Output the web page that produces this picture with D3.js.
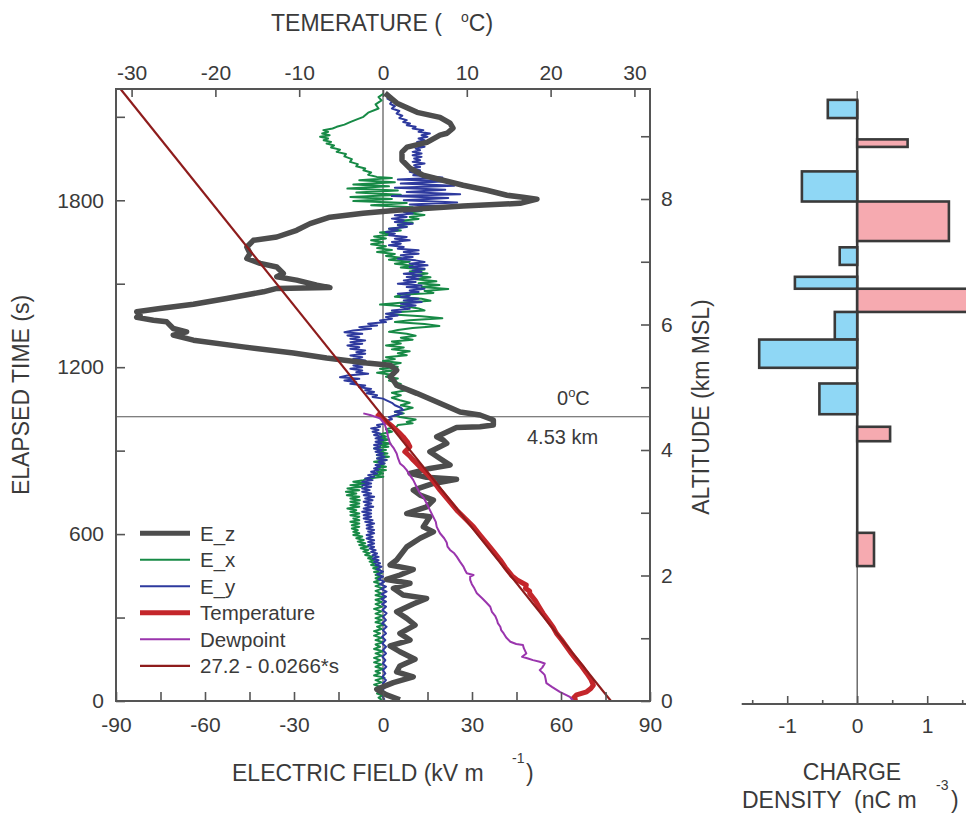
<!DOCTYPE html>
<html><head><meta charset="utf-8">
<script src="https://cdn.jsdelivr.net/npm/d3@7"></script>
<style>
body{margin:0;background:#fff}
text{font-family:"Liberation Sans",Arial,sans-serif;fill:#3a3a3a;white-space:pre}
</style>
</head><body><svg id="c" width="966" height="815"></svg>
<script>
// ---------- DATA ([elapsed time s, value]) ----------
const ezData = [[2185,0.7],[2149,4.7],[2116,11.5],[2098,19.2],[2077,22.6],[2059,23.6],[2041,21.6],[2034,19.2],[2008,14.8],[1991,8.1],[1973,6.4],[1944,6.4],[1915,9.1],[1890,13.5],[1872,20.2],[1854,27.0],[1836,35.0],[1818,41.8],[1811,47.2],[1804,51.9],[1789,46.2],[1779,27.0],[1764,4.7],[1753,-6.7],[1739,-17.9],[1716,-24.6],[1692,-29.1],[1668,-35.8],[1656,-43.7],[1632,-45.9],[1609,-44.8],[1591,-45.9],[1573,-41.4],[1560,-35.8],[1537,-33.6],[1525,-35.8],[1513,-29.1],[1495,-22.3],[1486,-17.9],[1483,-35.8],[1471,-40.3],[1447,-52.7],[1426,-63.9],[1411,-75.2],[1399,-83.0],[1387,-81.9],[1379,-83.0],[1369,-77.4],[1363,-72.9],[1339,-70.7],[1327,-66.2],[1315,-70.7],[1297,-63.9],[1273,-47.1],[1251,-30.2],[1233,-19.0],[1215,-5.5],[1207,2.4],[1189,4.6],[1165,2.4],[1153,3.5],[1135,4.6],[1106,11.4],[1070,19.2],[1039,26.0],[1028,32.7],[1010,37.2],[992,37.2],[986,32.7],[983,24.8],[950,18.1],[938,20.3],[926,21.5],[896,15.8],[872,19.2],[848,22.6],[836,15.8],[818,9.1],[804,14.7],[797,24.8],[782,17.0],[758,10.2],[740,12.5],[722,17.0],[698,14.7],[674,8.0],[662,15.8],[626,13.6],[608,17.0],[585,12.5],[554,8.0],[507,4.6],[489,2.4],[473,10.2],[453,5.7],[437,1.2],[423,9.1],[405,3.5],[381,6.8],[369,14.7],[349,10.2],[321,4.6],[297,8.0],[273,10.8],[243,5.7],[219,9.1],[198,2.4],[177,5.7],[150,10.8],[126,5.7],[105,4.6],[87,10.2],[66,3.5],[42,-2.1],[22,1.2],[4,5.7]];

const exData = [[2183,0.1],[2171,-1.5],[2159,-0.5],[2145,-2.5],[2130,-1.5],[2115,-5],[2100,-6.6],[2090,-9],[2081,-11.1],[2072,-13],[2064,-15.6],[2058,-17],[2052,-20.1],[2046,-18.5],[2040,-20.5],[2034,-18],[2028,-21.2],[2022,-18.5],[2016,-20],[2010,-17.5],[2004,-19.0],[1997,-16.5],[1990,-17.5],[1982,-14.5],[1974,-15.6],[1966,-12.5],[1958,-13],[1948,-10.5],[1938,-11.1],[1930,-8.5],[1922,-9],[1914,-6],[1908,-6.6],[1900,-4],[1892,-5],[1884,-2.1],[1880,3],[1872,-8],[1865,4],[1857,-10],[1850,2],[1842,-12],[1835,5],[1828,-9],[1820,6],[1812,-11],[1805,3],[1797,-10],[1790,8],[1782,-4],[1775,10],[1768,5],[1761,13],[1754,8],[1747,14],[1740,9],[1733,12],[1726,6],[1719,10],[1712,5],[1705,8],[1698,2],[1691,6],[1684,-1],[1677,3],[1670,-3],[1663,1],[1656,-4],[1649,0],[1642,-4],[1635,1],[1628,-2],[1621,3],[1614,-2],[1607,4],[1600,1],[1593,6],[1586,2],[1579,9],[1572,4],[1565,10],[1558,6],[1551,14],[1544,9],[1537,15],[1530,10],[1523,16],[1516,11],[1509,18],[1502,12],[1495,19],[1488,13],[1481,22],[1474,14],[1467,17],[1460,6],[1453,4],[1446,13],[1439,16],[1432,6],[1425,-1],[1418,8],[1411,12],[1404,14],[1397,3],[1390,2],[1383,13],[1376,20],[1369,9],[1362,4],[1355,14],[1348,19],[1341,10],[1334,5],[1327,2],[1320,8],[1313,11],[1306,6],[1299,10],[1292,3],[1285,6],[1278,1],[1271,7],[1264,3],[1257,9],[1250,5],[1243,8],[1236,1],[1229,4],[1222,0],[1215,6],[1208,2],[1201,5],[1194,-1],[1187,3],[1180,-2],[1173,3],[1166,1],[1159,5],[1152,2],[1140,6],[1129,4.6],[1117,8.0],[1108,3],[1099,6],[1090,3],[1081,5.7],[1072,9],[1063,6],[1054,10],[1046,7],[1040,4],[1034,7],[1027,4],[1021,5.7],[1012,11],[1003,8],[998,10],[992,5],[986,4.6],[977,1],[968,3],[959,-1],[950,1],[945,-2],[940,2],[932,-1.5],[926,2.5],[920,-1],[914,1.8],[908,-3],[902,1],[896,-2],[890,1.5],[884,-2.1],[878,2],[872,-2],[866,1.2],[860,-3],[854,0.5],[848,-2],[842,1],[836,-2.1],[830,1],[824,-2],[818,0],[812,-3],[806,0.1],[800,-5],[794,-6.6],[788,-10],[782,-6],[776,-11],[770,-7],[764,-12],[758,-8],[752,-12.5],[746,-9],[740,-12.2],[734,-8],[728,-11],[722,-7.8],[716,-11],[710,-8],[704,-11],[698,-8],[692,-12],[686,-9],[680,-11],[674,-8],[668,-11],[662,-8],[656,-10],[650,-8],[644,-11],[638,-8],[632,-10.5],[626,-8],[620,-10.5],[614,-8.5],[608,-10],[603,-8],[597,-10],[591,-7],[585,-9],[579,-6.5],[573,-8.5],[567,-6],[561,-8],[555,-5],[549,-7.5],[543,-5],[537,-6.6],[531,-4.5],[525,-6],[519,-3.5],[513,-5],[507,-3],[501,-4.5],[495,-2.5],[489,-4],[483,-1.5],[477,-3.3],[470,-1],[464,-3],[459,-0.5],[453,-2.5],[447,-0.5],[441,-2.5],[435,-1.0],[428,-3],[420,-0.5],[413,-2.5],[405,0],[396,-2.5],[387,-0.5],[380,-2.5],[372,0.5],[364,-2.5],[356,-0.5],[348,-2.5],[339,-0.4],[331,-3],[322,-0.5],[314,-2.5],[306,0],[298,-2.5],[291,-0.5],[283,-2.5],[275,0.5],[267,-2],[259,-0.5],[251,-3],[243,-1.0],[235,-3],[227,-0.5],[219,-2.5],[211,0],[203,-2.5],[195,-1],[187,-3],[179,0],[171,-2.5],[163,-0.5],[155,-3],[147,-1.0],[139,-3],[131,-0.5],[123,-2.5],[115,0],[107,-2.5],[100,-1],[92,-3],[84,0.5],[75,-2.5],[67,-0.5],[59,-3],[51,-1.0],[43,-2.5],[35,-0.5],[27,-2],[20,0],[12,-1.5],[4,-0.4]];

const eyData = [[2183,1.2],[2174,2.5],[2165,1.5],[2156,3],[2147,2.4],[2138,4],[2130,3],[2121,5.5],[2112,4.6],[2104,6.5],[2096,5.5],[2088,8],[2081,6.8],[2076,9.1],[2070,8],[2064,11],[2058,10],[2052,13.6],[2046,12],[2040,15.8],[2034,13],[2028,15],[2022,12],[2016,14],[2010,11.5],[2004,13],[1998,10.5],[1992,14],[1986,11],[1980,12.5],[1974,10],[1968,13],[1962,10],[1956,13],[1950,10.5],[1944,12.5],[1938,10],[1932,14],[1926,10.5],[1920,12.5],[1914,9],[1908,12.5],[1902,9],[1896,11.5],[1890,10.2],[1882,20],[1875,5],[1868,22],[1860,6],[1852,24],[1845,4],[1838,21],[1830,8],[1822,26],[1815,3],[1808,22],[1800,7],[1792,25],[1785,9],[1778,20],[1770,6],[1764,13],[1758,7],[1752,10],[1746,4],[1740,8],[1734,3],[1728,7],[1722,4],[1716,10],[1710,5],[1704,8],[1698,2],[1692,5],[1686,1],[1680,4],[1674,2],[1668,8],[1662,4],[1656,9],[1650,3],[1644,6],[1638,2],[1632,7],[1626,5],[1620,12],[1614,7],[1608,12],[1602,6],[1596,10],[1590,5],[1584,11],[1578,14],[1572,9],[1566,15],[1560,9],[1554,14],[1548,10],[1542,13],[1536,7],[1530,13],[1524,8],[1518,12],[1512,7],[1506,11],[1500,5],[1494,13],[1488,8],[1482,14],[1476,9],[1470,12],[1464,5],[1458,9],[1452,6],[1446,12],[1440,7],[1434,13],[1428,6],[1422,11],[1416,6],[1410,9],[1404,3],[1398,6],[1392,1],[1386,5],[1380,1],[1374,3],[1368,-1],[1362,1],[1356,-5],[1350,-2],[1344,-8],[1338,-4],[1332,-10],[1326,-13],[1320,-7],[1314,-12],[1308,-8],[1302,-11],[1296,-6],[1290,-11],[1284,-7],[1278,-12],[1272,-8],[1266,-11],[1260,-6],[1254,-9],[1248,-6],[1242,-11],[1236,-7],[1230,-10],[1224,-6],[1218,-10],[1212,-5],[1206,-10],[1200,-7],[1194,-11],[1188,-7],[1182,-9],[1176,-5],[1170,-12],[1164,-14.5],[1158,-8],[1152,-13],[1146,-9],[1140,-11],[1134,-6],[1128,-8],[1122,-4],[1117,-6],[1111,-3],[1106,-5.5],[1099,-2],[1093,-3.5],[1087,0],[1081,1.2],[1072,3],[1063,4],[1054,6],[1046,6.8],[1040,4],[1034,6.5],[1028,4.6],[1020,2],[1013,3],[1005,0],[998,1.2],[992,-2],[986,-1],[980,-4],[974,-1.5],[968,-3.5],[962,-1],[956,-3],[950,-0.5],[944,-2.5],[938,0],[932,-2.5],[926,-0.5],[920,-3],[914,-1.0],[908,-3],[902,-0.5],[896,-2.5],[890,0],[884,-2],[878,0.5],[872,-2],[866,1.2],[860,-1.5],[854,0.5],[848,-2.5],[842,-1],[836,-3],[830,-1.5],[824,-4],[818,-2],[812,-5],[806,-3],[800,-6],[794,-3.5],[788,-7],[782,-4],[776,-7],[770,-4],[764,-7],[758,-4.5],[752,-7],[746,-4],[740,-6.5],[734,-3],[728,-6],[722,-3.5],[716,-6.5],[710,-4],[704,-6],[698,-3.3],[692,-6.5],[686,-4],[680,-7],[674,-4],[668,-6.5],[662,-4],[656,-6.5],[650,-3.5],[644,-6],[638,-3],[632,-5.5],[626,-3.5],[620,-5.5],[615,-3],[609,-5],[603,-3],[597,-5.5],[590,-3.5],[584,-5.5],[578,-3],[572,-5],[566,-3],[560,-5],[554,-3],[548,-4.5],[542,-2.5],[536,-4],[530,-2],[524,-3.5],[518,-1.5],[512,-3.5],[506,-1.5],[500,-3],[495,-1],[489,-2.5],[483,-0.5],[474,-2],[465,0],[456,-2],[447,0],[438,-1.5],[429,0.5],[420,-1],[411,1],[402,-0.5],[393,1.2],[384,-0.5],[375,1],[366,-0.5],[357,1],[348,-0.3],[339,1],[327,-0.2],[315,1.2],[303,0],[291,1],[279,-0.3],[267,1.2],[255,0],[243,1],[231,-0.3],[219,0.8],[207,-0.2],[195,1],[183,0],[171,1],[159,-0.2],[147,0.8],[135,0],[123,1.1],[111,0],[99,0.8],[87,-0.2],[75,1],[63,0],[51,0.8],[39,-0.2],[27,0.8],[15,0],[4,0.5]];

const tempData = [[1034,-0.75],[1020,-0.2],[1005,0.4],[990,1.0],[974,1.6],[962,2.0],[950,2.4],[932,2.9],[914,3.2],[905,2.9],[896,2.6],[880,3.2],[866,3.6],[842,4.4],[818,5.2],[790,6.0],[758,6.8],[722,7.8],[686,8.8],[656,9.8],[626,10.8],[596,11.6],[567,12.4],[537,13.2],[507,14.0],[480,14.6],[450,15.4],[435,16.0],[425,16.6],[417,17.1],[405,17.0],[395,17.5],[387,17.5],[360,18.2],[340,18.6],[315,19.1],[290,19.7],[265,20.3],[243,20.7],[220,21.3],[195,21.9],[170,22.5],[147,23.1],[125,23.7],[100,24.3],[78,24.8],[57,25.1],[45,24.8],[33,24.3],[22,23.1],[10,22.7],[0,23.1]];

const dewData = [[1034,-2.35],[1028,-1.55],[1016,-0.36],[995,0.2],[974,0.44],[950,0.6],[926,0.84],[908,1.3],[890,1.63],[872,1.8],[854,2.03],[842,2.5],[830,2.83],[812,3.2],[794,3.62],[770,4.0],[746,4.42],[728,4.9],[710,5.21],[686,5.6],[662,6.0],[644,6.3],[626,6.41],[615,6.6],[603,6.8],[585,7.3],[570,7.6],[555,7.7],[543,8.0],[531,8.5],[519,8.8],[500,9.2],[483,9.6],[470,9.8],[459,10.0],[453,10.8],[447,10.4],[435,10.4],[420,10.6],[405,10.9],[387,11.2],[370,11.8],[355,12.3],[339,12.8],[320,13.0],[305,13.4],[291,13.6],[280,13.7],[267,14.0],[255,14.1],[243,14.4],[228,14.7],[213,15.2],[205,15.9],[201,16.7],[190,16.8],[171,17.1],[159,16.6],[153,17.3],[147,17.9],[141,18.7],[135,19.3],[120,19.0],[111,18.7],[100,19.1],[93,19.3],[80,19.4],[64,19.5],[50,20.2],[33,21.1],[15,22.3],[0,22.7]];

// fit line: 27.2 - 0.0266*s
const fitIntercept = 27.2, fitSlope = -0.0266, fitTimes = [0, 2200];

// charge density profile (altitude km MSL, nC m^-3)
const chargeTop    = [9.58, 8.95, 8.44, 7.96, 7.23, 6.76, 6.57, 6.20, 5.76, 5.06, 4.37, 2.68];
const chargeBottom = [9.29, 8.83, 7.96, 7.33, 6.95, 6.57, 6.20, 5.76, 5.31, 4.57, 4.14, 2.15];
const chargeValue  = [-0.42, 0.72, -0.79, 1.31, -0.25, -0.89, 1.8, -0.32, -1.40, -0.54, 0.47, 0.24];

const freezeAlt = 4.53;

const eTicks = [-90,-75,-60,-45,-30,-15,0,15,30,45,60,75,90];
const tTicks = [-30,-20,-10,0,10,20,30];
const timeTicks = [0,300,600,900,1200,1500,1800,2100];
const altTicks = [0,1,2,3,4,5,6,7,8,9];
const qTicks = [-1.5,-1,-0.5,0,0.5,1,1.5];

const legendItems = [
  {name:"E_z", color:"#4d4d4d", w:5},
  {name:"E_x", color:"#178a46", w:2},
  {name:"E_y", color:"#2e3a9e", w:2},
  {name:"Temperature", color:"#c4262b", w:5},
  {name:"Dewpoint", color:"#9a35ad", w:2},
  {name:"27.2 - 0.0266*s", color:"#8e1c1c", w:2.2}
];

// ---------- LAYOUT ----------
const svg = d3.select("#c");
const L=116, R=650, T=89, B=701;
const x  = d3.scaleLinear().domain([-90,90]).range([L,R]);
const xT = d3.scaleLinear().domain([-31.86,31.86]).range([L,R]);
const y  = d3.scaleLinear().domain([0,2200]).range([B,T]);
const yA = d3.scaleLinear().domain([0,9.753]).range([B,T]);
const xq = d3.scaleLinear().domain([-1.65,1.6]).range([741.7,969.2]);
const axisCol = "#555";

svg.append("defs").append("clipPath").attr("id","clip")
  .append("rect").attr("x",L).attr("y",T).attr("width",R-L).attr("height",B-T);

// zero line and 0C line
svg.append("line").attr("x1",x(0)).attr("x2",x(0)).attr("y1",T).attr("y2",B).attr("stroke",axisCol).attr("stroke-width",1.2);
svg.append("line").attr("x1",L).attr("x2",R).attr("y1",yA(freezeAlt)).attr("y2",yA(freezeAlt)).attr("stroke",axisCol).attr("stroke-width",1.2);

const g = svg.append("g").attr("clip-path","url(#clip)");
const lineE = d3.line().x(d=>x(d[1])).y(d=>y(d[0]));
const lineT = d3.line().x(d=>xT(d[1])).y(d=>y(d[0]));

g.append("path").datum(exData).attr("d",lineE).attr("fill","none").attr("stroke",legendItems[1].color).attr("stroke-width",2).attr("stroke-linejoin","round");
g.append("path").datum(eyData).attr("d",lineE).attr("fill","none").attr("stroke",legendItems[2].color).attr("stroke-width",2).attr("stroke-linejoin","round");
g.append("path").datum(ezData).attr("d",lineE).attr("fill","none").attr("stroke",legendItems[0].color).attr("stroke-width",5.5).attr("stroke-linejoin","round");
g.append("path").datum(tempData).attr("d",lineT).attr("fill","none").attr("stroke",legendItems[3].color).attr("stroke-width",5).attr("stroke-linejoin","round");
g.append("path").datum(dewData).attr("d",lineT).attr("fill","none").attr("stroke",legendItems[4].color).attr("stroke-width",2).attr("stroke-linejoin","round");
g.append("path").datum(fitTimes.map(s=>[s, fitIntercept + fitSlope*s])).attr("d",lineT).attr("fill","none").attr("stroke",legendItems[5].color).attr("stroke-width",2.2);

// frame
svg.append("rect").attr("x",L).attr("y",T).attr("width",R-L).attr("height",B-T).attr("fill","none").attr("stroke",axisCol).attr("stroke-width",2);

function styleAxis(sel, fs){
  sel.select(".domain").remove();
  sel.selectAll(".tick line").attr("stroke",axisCol).attr("stroke-width",1.6);
  sel.selectAll(".tick text").attr("font-size",fs).attr("fill","#3a3a3a").attr("font-family","Liberation Sans, Arial, sans-serif");
}
const fmt = d => String(d);
svg.append("g").attr("transform",`translate(0,${B})`)
  .call(d3.axisBottom(x).tickValues(eTicks).tickFormat(d=>d%30===0?fmt(d):"").tickSize(-9).tickPadding(16))
  .call(s=>styleAxis(s,21));
svg.append("g").attr("transform",`translate(0,${T})`)
  .call(d3.axisTop(xT).tickValues(tTicks).tickFormat(fmt).tickSize(-8).tickPadding(9))
  .call(s=>styleAxis(s,21));
svg.append("g").attr("transform",`translate(${L},0)`)
  .call(d3.axisLeft(y).tickValues(timeTicks).tickFormat(d=>d%600===0?fmt(d):"").tickSize(-9).tickPadding(12))
  .call(s=>styleAxis(s,21));
svg.append("g").attr("transform",`translate(${R},0)`)
  .call(d3.axisRight(yA).tickValues(altTicks).tickFormat(d=>d%2===0?fmt(d):"").tickSize(-9).tickPadding(11))
  .call(s=>styleAxis(s,21));

// titles
const t1 = svg.append("text").attr("x",271).attr("y",31).attr("font-size",23);
t1.append("tspan").text("TEMERATURE (");
t1.append("tspan").attr("x",461).attr("dy",-9).attr("font-size",14).text("o");
t1.append("tspan").attr("dy",9).text("C)");

const t2 = svg.append("text").attr("x",232).attr("y",781).attr("font-size",23);
t2.append("tspan").text("ELECTRIC FIELD (kV m");
t2.append("tspan").attr("x",512).attr("dy",-18).attr("font-size",14).text("-1");
t2.append("tspan").attr("dy",18).attr("x",526).text(")");

svg.append("text").attr("transform",`translate(29,${y(1100)}) rotate(-90)`).attr("text-anchor","middle").attr("font-size",23).text("ELAPSED TIME (s)");
svg.append("text").attr("transform",`translate(709,407) rotate(-90)`).attr("text-anchor","middle").attr("font-size",23).text("ALTITUDE (km MSL)");

// annotations
const a1 = svg.append("text").attr("x",557).attr("y",405).attr("font-size",20);
a1.append("tspan").text("0");
a1.append("tspan").attr("dy",-8).attr("font-size",13).text("o");
a1.append("tspan").attr("dy",8).text("C");
svg.append("text").attr("x",527).attr("y",444).attr("font-size",20).text(freezeAlt.toFixed(2)+" km");

// legend
const lg = svg.append("g");
legendItems.forEach((d,i)=>{
  const yy = 533.3 + i*26.5;
  lg.append("line").attr("x1",140).attr("x2",190).attr("y1",yy).attr("y2",yy).attr("stroke",d.color).attr("stroke-width",d.w);
  lg.append("text").attr("x",200).attr("y",yy+7.5).attr("font-size",20.5).text(d.name);
});

// ---------- CHARGE PANEL ----------
svg.append("line").attr("x1",xq(0)).attr("x2",xq(0)).attr("y1",91).attr("y2",704).attr("stroke",axisCol).attr("stroke-width",1.3);
svg.append("line").attr("x1",xq(0)).attr("x2",xq(0)).attr("y1",yA(d3.max(chargeTop))).attr("y2",yA(d3.min(chargeBottom))).attr("stroke","#3a3a3a").attr("stroke-width",2.6);
chargeValue.forEach((v,i)=>{
  svg.append("rect")
    .attr("x",Math.min(xq(0),xq(v))).attr("width",Math.abs(xq(v)-xq(0)))
    .attr("y",yA(chargeTop[i])).attr("height",yA(chargeBottom[i])-yA(chargeTop[i]))
    .attr("fill",v<0?"#8fd7f5":"#f6aab0").attr("stroke","#3a3a3a").attr("stroke-width",2.6);
});
const qa = svg.append("g").attr("transform","translate(0,704)")
  .call(d3.axisBottom(xq).tickValues(qTicks).tickFormat(d=>Number.isInteger(d)?fmt(d):"").tickSize(0).tickPadding(14));
qa.select(".domain").remove();
qa.selectAll(".tick text").attr("font-size",21).attr("fill","#3a3a3a");
qa.selectAll(".tick").append("line").attr("y1",0).attr("y2",d=>Number.isInteger(d)?-8:-4).attr("stroke",axisCol).attr("stroke-width",1.6);
svg.append("line").attr("x1",741.7).attr("x2",966).attr("y1",704).attr("y2",704).attr("stroke",axisCol).attr("stroke-width",2);

svg.append("text").attr("x",852).attr("y",780).attr("text-anchor","middle").attr("font-size",23).text("CHARGE");
const t3 = svg.append("text").attr("x",742).attr("y",808).attr("font-size",23);
t3.append("tspan").text("DENSITY  (nC m");
t3.append("tspan").attr("x",936).attr("dy",-18).attr("font-size",14).text("-3");
t3.append("tspan").attr("x",951).attr("dy",18).text(")");
</script></body></html>
